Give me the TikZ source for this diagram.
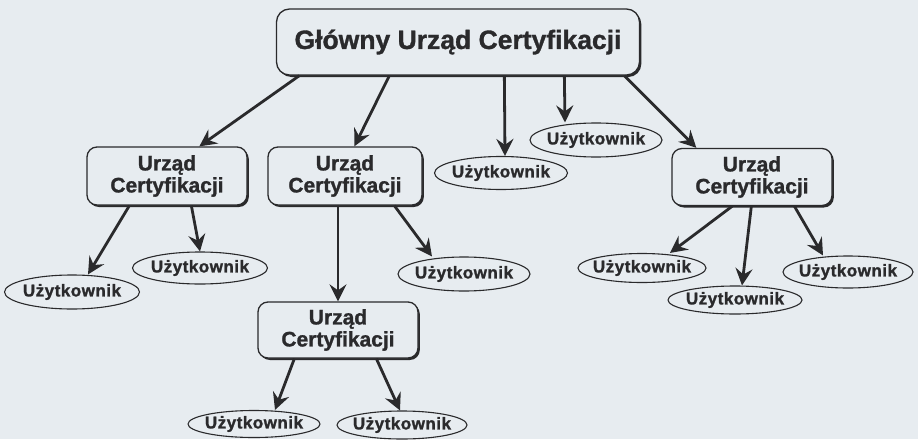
\documentclass[tikz,border=0pt]{standalone}
\usepackage{fontspec}
\setmainfont{Liberation Sans}[BoldFeatures={FakeBold=1.2}]
\newfontfamily\boxfont{Liberation Sans}[BoldFeatures={FakeBold=1.2}]
\newfontfamily\userfont{Liberation Sans}[LetterSpace=3,BoldFeatures={FakeBold=1.4}]
\usetikzlibrary{shapes.geometric,arrows.meta,shadows}
\definecolor{bgc}{HTML}{E7ECF0}
\definecolor{ink}{HTML}{2A2A2C}
\tikzset{
  ca/.style={draw=ink, line width=1.3pt, rounded corners=10pt, fill=bgc, align=center,
    font=\boxfont\bfseries\fontsize{21}{22}\selectfont, text=ink, inner sep=0pt,
    drop shadow={shadow xshift=1.8pt, shadow yshift=-2pt, fill=ink, opacity=1}},
  user/.style={draw=ink, line width=1.1pt, ellipse, fill=bgc, inner xsep=-20pt, inner ysep=-6pt,
    font=\userfont\bfseries\fontsize{17}{17}\selectfont, text=ink},
  arr/.style={draw=ink, line width=2.8pt, -{Stealth[length=17pt,width=17pt,inset=6pt]}},
}
\begin{document}
\begin{tikzpicture}[x=1pt,y=-1pt]
\fill[bgc] (0,0) rectangle (918,439);
\useasboundingbox (0,0) rectangle (918,439);
% Authorities
\node[ca, rounded corners=13pt, minimum width=363, minimum height=66,
      font=\boxfont\bfseries\fontsize{26.5}{27}\selectfont] (main) at (458,42)
      {\raisebox{5pt}{Główny Urząd Certyfikacji}};
\node[ca, minimum width=160, minimum height=58] (ca1) at (167,176) {Urząd\\Certyfikacji};
\node[ca, minimum width=154, minimum height=58] (ca2) at (345,176) {Urząd\\Certyfikacji};
\node[ca, minimum width=160, minimum height=57] (ca3) at (752,177) {Urząd\\Certyfikacji};
\node[ca, minimum width=160, minimum height=56] (ca4) at (338,330) {Urząd\\Certyfikacji};
% Users
\node[user, minimum width=132, minimum height=34] (u1) at (596,140) {Użytkownik};
\node[user, minimum width=133, minimum height=33] (u2) at (501,173) {Użytkownik};
\node[user, minimum width=135, minimum height=34] (u3) at (72,292) {Użytkownik};
\node[user, minimum width=135, minimum height=32] (u4) at (200,268) {Użytkownik};
\node[user, minimum width=132, minimum height=34] (u5) at (464,274) {Użytkownik};
\node[user, minimum width=128, minimum height=29] (u6) at (642,268) {Użytkownik};
\node[user, minimum width=134, minimum height=28] (u7) at (735,300) {Użytkownik};
\node[user, minimum width=130, minimum height=32] (u8) at (848,272) {Użytkownik};
\node[user, minimum width=132, minimum height=27] (u9) at (254,424) {Użytkownik};
\node[user, minimum width=130, minimum height=28] (u10) at (402,425) {Użytkownik};
% Arrows
\draw[arr] ([xshift=23.5pt]main.south west) -- ([xshift=113pt]ca1.north west);
\draw[arr] ([xshift=113.5pt]main.south west) -- ([xshift=87pt]ca2.north west);
\draw[arr] ([xshift=228.5pt]main.south west) -- ([xshift=4pt]u2.north);
\draw[arr] ([xshift=288.5pt]main.south west) -- ([xshift=-31pt]u1.north);
\draw[arr] ([xshift=348.5pt]main.south west) -- ([xshift=25pt]ca3.north west);
\draw[arr] ([xshift=43pt]ca1.south west) -- ([xshift=16pt]u3.north);
\draw[arr] ([xshift=105pt]ca1.south west) -- (u4.north);
\draw[arr] ([xshift=-7pt]ca2.south) -- (ca4.north);
\draw[arr] ([xshift=127pt]ca2.south west) -- ([xshift=-32pt]u5.north);
\draw[arr] ([xshift=61pt]ca3.south west) -- ([xshift=28pt]u6.north);
\draw[arr] ([xshift=80pt]ca3.south west) -- ([xshift=7pt]u7.north);
\draw[arr] ([xshift=123pt]ca3.south west) -- ([xshift=-25pt]u8.north);
\draw[arr] ([xshift=37pt]ca4.south west) -- ([xshift=21pt]u9.north);
\draw[arr] ([xshift=119pt]ca4.south west) -- ([xshift=-2pt]u10.north);
\end{tikzpicture}
\end{document}
